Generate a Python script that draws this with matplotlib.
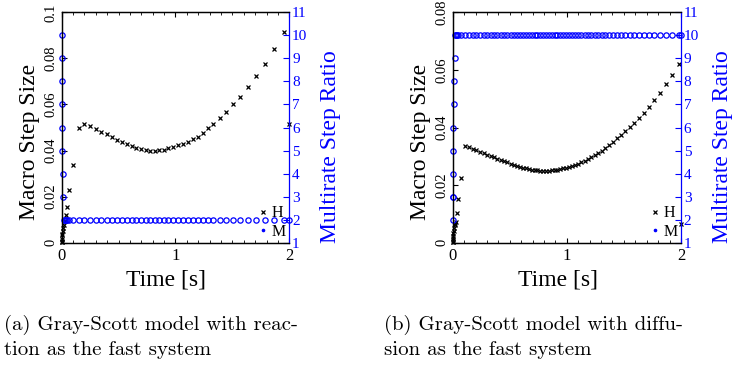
import numpy as np
import matplotlib
matplotlib.use('Agg')
from matplotlib import pyplot as plt
from matplotlib.lines import Line2D
from matplotlib.ticker import MultipleLocator, FuncFormatter
from matplotlib.transforms import ScaledTranslation

# reaction as the fast system: macro step time, macro step size H, multirate ratio M
t_react = [0.0000, 0.0002, 0.0006, 0.0014, 0.0030, 0.0062, 0.0100, 0.0150, 0.0212, 0.0290,
           0.0385, 0.0490, 0.0670, 0.1010, 0.1520, 0.1990, 0.2500, 0.2990, 0.3490, 0.3960,
           0.4420, 0.4860, 0.5300, 0.5730, 0.6140, 0.6550, 0.6960, 0.7370, 0.7770, 0.8170,
           0.8570, 0.8980, 0.9380, 0.9800, 1.0230, 1.0650, 1.1090, 1.1530, 1.1980, 1.2400,
           1.2840, 1.3340, 1.3880, 1.4460, 1.5050, 1.5680, 1.6360, 1.7070, 1.7830, 1.8640,
           1.9550, 2.0000]
h_react = [0.0002, 0.0004, 0.0008, 0.0016, 0.0032, 0.0038, 0.0050, 0.0062, 0.0078, 0.0095,
           0.0120, 0.0157, 0.0229, 0.0338, 0.0497, 0.0516, 0.0507, 0.0494, 0.0482, 0.0470,
           0.0459, 0.0447, 0.0436, 0.0428, 0.0420, 0.0413, 0.0407, 0.0403, 0.0400, 0.0400,
           0.0402, 0.0404, 0.0410, 0.0416, 0.0423, 0.0430, 0.0438, 0.0448, 0.0460, 0.0477,
           0.0497, 0.0517, 0.0542, 0.0568, 0.0600, 0.0634, 0.0676, 0.0722, 0.0777, 0.0841,
           0.0913, 0.0517]
m_react = [10, 9, 8, 7, 6, 5, 4, 3] + [2] * 44

# diffusion as the fast system
t_diff = [0.0000, 0.0002, 0.0006, 0.0014, 0.0030, 0.0054, 0.0086, 0.0128, 0.0178, 0.0238,
          0.0290, 0.0350, 0.0490, 0.0700, 0.1080, 0.1416, 0.1747, 0.2073, 0.2394, 0.2710,
          0.3021, 0.3327, 0.3628, 0.3924, 0.4216, 0.4504, 0.4787, 0.5066, 0.5341, 0.5611,
          0.5878, 0.6142, 0.6403, 0.6661, 0.6917, 0.7171, 0.7423, 0.7674, 0.7924, 0.8174,
          0.8424, 0.8674, 0.8925, 0.9177, 0.9431, 0.9687, 0.9945, 1.0206, 1.0469, 1.0735,
          1.1005, 1.1279, 1.1558, 1.1842, 1.2132, 1.2428, 1.2731, 1.3042, 1.3362, 1.3692,
          1.4032, 1.4383, 1.4745, 1.5119, 1.5506, 1.5907, 1.6323, 1.6756, 1.7208, 1.7680,
          1.8175, 1.8696, 1.9246, 1.9830, 2.0000]
h_diff = [0.0002, 0.0004, 0.0008, 0.0016, 0.0024, 0.0032, 0.0042, 0.0050, 0.0060, 0.0066,
          0.0073, 0.0104, 0.0152, 0.0226, 0.0336, 0.0331, 0.0326, 0.0321, 0.0316, 0.0311,
          0.0306, 0.0301, 0.0296, 0.0292, 0.0288, 0.0283, 0.0279, 0.0275, 0.0270, 0.0267,
          0.0264, 0.0261, 0.0258, 0.0256, 0.0254, 0.0252, 0.0251, 0.0250, 0.0250, 0.0250,
          0.0250, 0.0251, 0.0252, 0.0254, 0.0256, 0.0258, 0.0261, 0.0263, 0.0266, 0.0270,
          0.0274, 0.0279, 0.0284, 0.0290, 0.0296, 0.0303, 0.0311, 0.0320, 0.0330, 0.0340,
          0.0351, 0.0362, 0.0374, 0.0387, 0.0401, 0.0416, 0.0433, 0.0452, 0.0472, 0.0495,
          0.0521, 0.0550, 0.0584, 0.0620, 0.0065]
m_diff = [2, 3, 3, 4, 5, 6, 7, 8, 9] + [10] * 66

captions = ['(a) Gray-Scott model with reac-\ntion as the fast system',
            '(b) Gray-Scott model with diffu-\nsion as the fast system']

SERIF = 'Liberation Serif'
BLUE = '#0000ff'


def draw(fig, rect, t, h, m, hmax, caption, cap_x):
    ax = fig.add_axes(rect)
    ax2 = ax.twinx()

    ax.plot(t, h, ls='none', marker='x', ms=3.2, mew=0.9, color='k', clip_on=False)
    ax2.plot(t, m, ls='none', marker='o', ms=3.8, mew=0.9, mfc='none', mec=BLUE, clip_on=False)

    ax.set_xlim(0, 2)
    ax.set_ylim(0, hmax)
    ax2.set_ylim(1, 11)

    ax.xaxis.set_major_locator(MultipleLocator(1))
    ax.xaxis.set_minor_locator(MultipleLocator(0.1))
    ax.yaxis.set_major_locator(MultipleLocator(0.02))
    ax.yaxis.set_major_formatter(FuncFormatter(lambda v, _: '%g' % round(v, 4)))
    ax2.yaxis.set_major_locator(MultipleLocator(1))

    ax.tick_params(axis='x', which='both', direction='in', top=True, labelsize=12, pad=4)
    ax.tick_params(axis='x', which='major', length=3.5)
    ax.tick_params(axis='x', which='minor', length=2.5)
    ax.tick_params(axis='y', direction='in', right=False, length=3.5, labelsize=10.5,
                   labelrotation=90, pad=3)
    ylabs = ax.get_yticklabels()
    for lab in ylabs:
        lab.set_verticalalignment('center')
    # keep the top label inside the figure
    top = ylabs[-1]
    top.set_transform(top.get_transform() + ScaledTranslation(0, -3 / 72, fig.dpi_scale_trans))
    ax2.tick_params(axis='y', direction='in', length=4, colors=BLUE, labelsize=11, pad=2)

    for a in (ax, ax2):
        for lab in a.get_xticklabels() + a.get_yticklabels():
            lab.set_family(SERIF)
        for s in a.spines.values():
            s.set_linewidth(0.9)
    ax.spines['right'].set_visible(False)
    ax2.spines['right'].set_color(BLUE)

    ax.set_xlabel('Time [s]', family=SERIF, fontsize=17, labelpad=4, x=0.46)
    ax.set_ylabel('Macro Step Size', family=SERIF, fontsize=17, labelpad=3, y=0.437)
    ax2.set_ylabel('Multirate Step Ratio', family=SERIF, fontsize=17, color=BLUE,
                   labelpad=9, y=0.415)

    handles = [Line2D([], [], ls='none', marker='x', ms=3.2, mew=0.9, color='k'),
               Line2D([], [], ls='none', marker='o', ms=1.6, color=BLUE)]
    ax2.legend(handles, ['H', 'M'], loc='lower right', bbox_to_anchor=(1.035, -0.035),
               frameon=False, handlelength=0.5, handletextpad=0.3, labelspacing=0.15,
               borderaxespad=0.3, prop={'family': SERIF, 'size': 11.5})

    fig.text(cap_x, 0.150, caption, family='cmr10', fontsize=15, va='top',
             ha='left', linespacing=1.43)
    return ax, ax2


fig = plt.figure(figsize=(7.35, 3.71), dpi=100)
draw(fig, [0.0839, 0.3458, 0.3097, 0.6210], t_react, h_react, m_react, 0.1, captions[0], 0.006)
draw(fig, [0.6159, 0.3458, 0.3106, 0.6210], t_diff, h_diff, m_diff, 0.08, captions[1], 0.523)
fig.savefig('out.png', dpi=100)
